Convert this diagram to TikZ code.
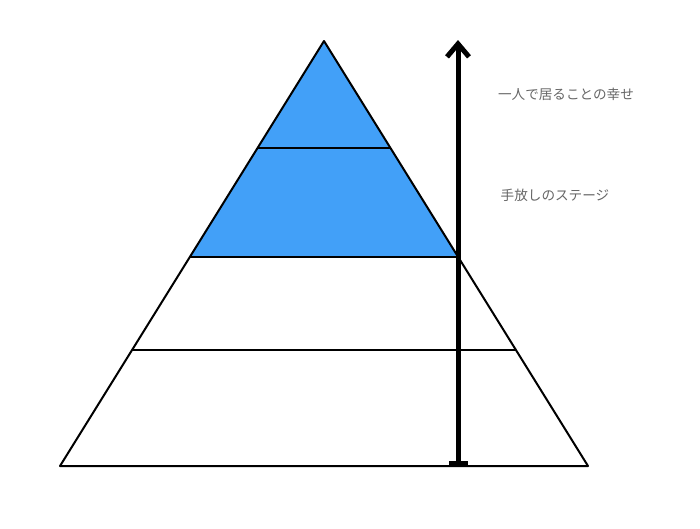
\documentclass[tikz,border=0pt]{standalone}
\usepackage{fontspec}
\newfontfamily\cjk{Noto Sans CJK JP}
\usetikzlibrary{arrows.meta}
\definecolor{pyblue}{HTML}{42A0F8}
\definecolor{labgray}{HTML}{666666}
\tikzset{
  edge/.style={line width=2pt, line join=round},
  label/.style={font=\cjk\fontsize{13.6}{16}\selectfont, text=labgray, inner sep=0pt},
  axis/.style={line width=5pt, -{Straight Barb[length=13pt,width=22pt,line width=5pt]}}
}
\begin{document}
\begin{tikzpicture}[x=1pt,y=-1pt]
\useasboundingbox (0,0) rectangle (700,528);
\coordinate (apex) at (324,41);
\coordinate (bl) at (60,466);
\coordinate (br) at (588,466);
\coordinate (l1) at (257.5,148); \coordinate (r1) at (390.5,148);
\coordinate (l2) at (189.8,257); \coordinate (r2) at (458.2,257);
\coordinate (l3) at (132,350); \coordinate (r3) at (516,350);
\fill[pyblue] (apex) -- (l2) -- (r2) -- cycle;
\draw[edge] (apex) -- (bl) -- (br) -- cycle;
\draw[edge] (l1) -- (r1);
\draw[edge] (l2) -- (r2);
\draw[edge] (l3) -- (r3);
\coordinate (abot) at (458,466);
\coordinate (atop) at (458,40);
\draw[axis] (abot) -- (atop);
\fill (449,461) rectangle (468,467);
\node[label] (t1) at (566,94) {一人で居ることの幸せ};
\node[label] (t2) at (555,195) {手放しのステージ};
\end{tikzpicture}
\end{document}
